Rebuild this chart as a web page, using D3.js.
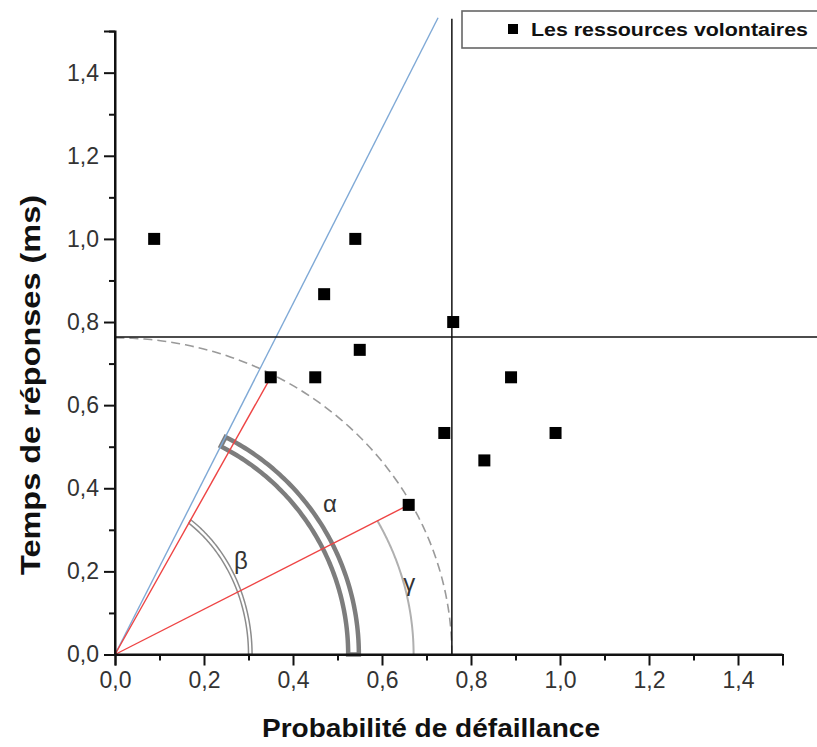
<!DOCTYPE html>
<html>
<head>
<meta charset="utf-8">
<script src="https://cdn.jsdelivr.net/npm/d3@7"></script>
<style>
  html, body { margin: 0; padding: 0; background: #fff; }
  svg { display: block; }
</style>
</head>
<body>
<svg id="chart" width="817" height="747"></svg>
<script>
// ---- data ----
const seriesName = "Les ressources volontaires";
const probValues = [0.088, 0.54, 0.47, 0.55, 0.76, 0.35, 0.45, 0.89, 0.74, 0.99, 0.83, 0.66];
const timeValues = [1.0, 1.0, 0.867, 0.733, 0.8, 0.667, 0.667, 0.667, 0.533, 0.533, 0.467, 0.36];
const majorTicks = [0, 0.2, 0.4, 0.6, 0.8, 1.0, 1.2, 1.4];
const minorTicks = [0.1, 0.3, 0.5, 0.7, 0.9, 1.1, 1.3, 1.5];
const tickLabels = ["0,0", "0,2", "0,4", "0,6", "0,8", "1,0", "1,2", "1,4"];
const xTitle = "Probabilité de défaillance";
const yTitle = "Temps de réponses (ms)";
// threshold lines (data units)
const thresholdX = 0.757;
const thresholdY = 0.764;
const thresholdTop = 1.53;
const thresholdRight = 1.6;
// rays from origin: end points (data units)
const blueRay = [0.726, 1.532];
const redRays = [[0.35, 0.667], [0.66, 0.36]];
// arcs: [rx, ry] in data units, end polar angle in degrees
const betaRadii = [[0.300, 0.379], [0.308, 0.389]];
const betaAngle = 62.3;
const alphaRadii = [[0.524, 0.562], [0.548, 0.587]];
const alphaAngle = 64.6;
const gammaRadius = [0.671, 0.674];
const gammaAngle = 28.6;
const dashedRadius = [0.757, 0.762];
const arcLabels = [["α", 0.483, 0.364], ["β", 0.283, 0.227], ["γ", 0.661, 0.174]];

// ---- scales ----
const svg = d3.select("#chart");
const x = d3.scaleLinear().domain([0, 1.5]).range([115, 782.5]);
const y = d3.scaleLinear().domain([0, 1.5]).range([654.5, 31.1]);

const line = d3.line().x(d => x(d[0])).y(d => y(d[1]));
function ellipsePts(r, a0, a1) {
  const n = 90;
  return d3.range(n + 1).map(i => {
    const t = (a0 + (a1 - a0) * i / n) * Math.PI / 180;
    const c = Math.cos(t), s = Math.sin(t);
    const rho = 1 / Math.sqrt((c * c) / (r[0] * r[0]) + (s * s) / (r[1] * r[1]));
    return [rho * c, rho * s];
  });
}

// dashed outer arc
svg.append("path")
  .attr("d", line(ellipsePts(dashedRadius, 0, 90)))
  .attr("fill", "none").attr("stroke", "#9a9a9a").attr("stroke-width", 1.6)
  .attr("stroke-dasharray", "9,5");

// gamma arc
svg.append("path")
  .attr("d", line(ellipsePts(gammaRadius, 0, gammaAngle)))
  .attr("fill", "none").attr("stroke", "#b0b0b0").attr("stroke-width", 2);

// beta double arc
svg.append("path")
  .attr("d", line(ellipsePts(betaRadii[1], 0, betaAngle).concat(ellipsePts(betaRadii[0], betaAngle, 0))) + "Z")
  .attr("fill", "none").attr("stroke", "#8c8c8c").attr("stroke-width", 1.5);

// alpha double arc
svg.append("path")
  .attr("d", line(ellipsePts(alphaRadii[1], 0, alphaAngle).concat(ellipsePts(alphaRadii[0], alphaAngle, 0))) + "Z")
  .attr("fill", "none").attr("stroke", "#7d7d7d").attr("stroke-width", 4.5);

// blue ray
svg.append("path").attr("d", line([[0, 0], blueRay]))
  .attr("stroke", "#7fa9d6").attr("stroke-width", 1.4).attr("fill", "none");

// red rays
redRays.forEach(r => {
  svg.append("path").attr("d", line([[0, 0], r]))
    .attr("stroke", "#ee4444").attr("stroke-width", 1.4).attr("fill", "none");
});

// threshold lines
svg.append("path").attr("d", line([[0, thresholdY], [thresholdRight, thresholdY]]))
  .attr("stroke", "#111").attr("stroke-width", 1.5);
svg.append("path").attr("d", line([[thresholdX, 0], [thresholdX, thresholdTop]]))
  .attr("stroke", "#111").attr("stroke-width", 1.5);

// arc labels
svg.selectAll("text.arcl").data(arcLabels).enter().append("text")
  .attr("class", "arcl")
  .attr("x", d => x(d[1])).attr("y", d => y(d[2]))
  .attr("text-anchor", "middle").attr("dominant-baseline", "central")
  .attr("font-family", "Liberation Sans, Arial, sans-serif")
  .attr("font-size", 24).attr("fill", "#333")
  .text(d => d[0]);

// axes
const axisFont = "Liberation Sans, Arial, sans-serif";
const xAxis = svg.append("g").attr("transform", `translate(0,${y(0)})`);
xAxis.call(d3.axisBottom(x).tickValues(minorTicks).tickSize(6).tickFormat(""));
xAxis.append("g").call(d3.axisBottom(x).tickValues(majorTicks).tickSize(11)
  .tickFormat((d, i) => tickLabels[i]).tickPadding(6));
xAxis.selectAll(".domain").attr("stroke", "#111").attr("stroke-width", 2);
xAxis.select(".domain").attr("d", `M${x(0)},0H${x(1.5)}`);
xAxis.selectAll("g > g > g .domain").remove();
xAxis.selectAll("line").attr("stroke", "#111").attr("stroke-width", 2);
xAxis.selectAll("text").attr("font-family", axisFont).attr("font-size", 23).attr("fill", "#333");

const yAxis = svg.append("g").attr("transform", `translate(${x(0)},0)`);
yAxis.call(d3.axisLeft(y).tickValues(minorTicks).tickSize(6).tickFormat(""));
yAxis.append("g").call(d3.axisLeft(y).tickValues(majorTicks).tickSize(11)
  .tickFormat((d, i) => tickLabels[i]).tickPadding(5));
yAxis.selectAll(".domain").attr("stroke", "#111").attr("stroke-width", 2);
yAxis.select(".domain").attr("d", `M0,${y(0)}V${y(1.5)}`);
yAxis.selectAll("g > g > g .domain").remove();
yAxis.selectAll("line").attr("stroke", "#111").attr("stroke-width", 2);
yAxis.selectAll("text").attr("font-family", axisFont).attr("font-size", 23).attr("fill", "#333");

// points
const pts = probValues.map((v, i) => [v, timeValues[i]]);
svg.selectAll("rect.pt").data(pts).enter().append("rect")
  .attr("class", "pt")
  .attr("x", d => x(d[0]) - 6).attr("y", d => y(d[1]) - 6)
  .attr("width", 12).attr("height", 12)
  .attr("fill", "#000");

// titles
svg.append("text").attr("x", 431).attr("y", 737)
  .attr("text-anchor", "middle")
  .attr("font-family", axisFont).attr("font-weight", "bold").attr("font-size", 26)
  .attr("textLength", 338).attr("lengthAdjust", "spacingAndGlyphs")
  .attr("fill", "#111").text(xTitle);
svg.append("text").attr("transform", "translate(40,385) rotate(-90)")
  .attr("text-anchor", "middle")
  .attr("font-family", axisFont).attr("font-weight", "bold").attr("font-size", 27)
  .attr("textLength", 380).attr("lengthAdjust", "spacingAndGlyphs")
  .attr("fill", "#111").text(yTitle);

// legend
const lg = svg.append("g");
lg.append("rect").attr("x", 462).attr("y", 11).attr("width", 370).attr("height", 37)
  .attr("fill", "#fff").attr("stroke", "#666").attr("stroke-width", 1.6);
lg.append("rect").attr("x", 508).attr("y", 24).attr("width", 10).attr("height", 10).attr("fill", "#000");
lg.append("text").attr("x", 531).attr("y", 36)
  .attr("font-family", axisFont).attr("font-weight", "bold").attr("font-size", 18)
  .attr("textLength", 277).attr("lengthAdjust", "spacingAndGlyphs")
  .attr("fill", "#111").text(seriesName);
</script>
</body>
</html>
